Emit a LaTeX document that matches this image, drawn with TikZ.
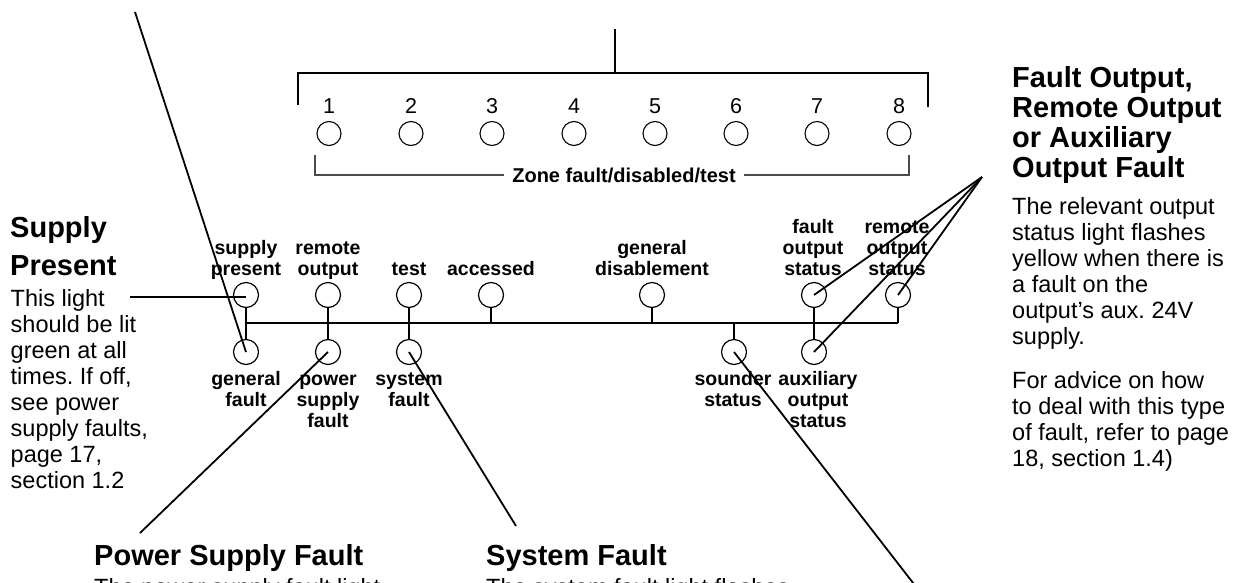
\documentclass[tikz,border=0pt]{standalone}
\usepackage{fontspec}
\setmainfont{Liberation Sans}
\frenchspacing
\begin{document}
\begin{tikzpicture}[x=1pt,y=-1pt,
  lamp/.style={circle,draw,line width=1.2pt,minimum size=25pt,inner sep=0pt},
  zlamp/.style={circle,draw,line width=1.1pt,minimum size=24pt,inner sep=0pt},
  lbl/.style={inner sep=0pt,anchor=base,font=\fontsize{19.5}{21}\selectfont\bfseries},
  znum/.style={inner sep=0pt,anchor=base,font=\fontsize{21.5}{21.5}\selectfont},
  ptr/.style={line width=1.8pt},
  busline/.style={line width=1.3pt},
  brk/.style={line width=1.8pt},
  zbrk/.style={line width=1.1pt,black!70},
  headA/.style={inner sep=0pt,anchor=base west,font=\fontsize{29}{38}\selectfont\bfseries},
  headB/.style={inner sep=0pt,anchor=base west,font=\fontsize{29}{30}\selectfont\bfseries},
  bodytxt/.style={inner sep=0pt,anchor=base west,font=\fontsize{23.5}{26}\selectfont},
]
\useasboundingbox (0,0) rectangle (1233,582);
\clip (0,0) rectangle (1233,582);

% ---------- zone lights ----------
\foreach \i/\xx in {1/329,2/411,3/492,4/574,5/655,6/736,7/817,8/899} {
  \node[zlamp] (z\i) at (\xx,133.5) {};
  \node[znum] (zn\i) at (\xx,113) {\i};
}
\coordinate (brL) at (298,105);
\coordinate (brR) at (928,107);
\coordinate (brMid) at (615,73);
\coordinate (brTop) at (615,29);
\draw[brk] (brL) |- (brMid) -| (brR);
\draw[brk] (brTop) -- (brMid);

\node[inner sep=0pt,font=\fontsize{20}{20}\selectfont\bfseries] (zonelbl) at (624,175) {Zone fault/disabled/test};
\coordinate (zbL) at (315,155);
\coordinate (zbR) at (909,155);
\draw[zbrk] (zbL) |- ([xshift=-8pt]zonelbl.west);
\draw[zbrk] (zbR) |- ([xshift=8pt]zonelbl.east);

% ---------- status lights ----------
\node[lamp] (sp)  at (246,295) {};
\node[lamp] (ro)  at (328,295) {};
\node[lamp] (tst) at (409,295) {};
\node[lamp] (acc) at (491,295) {};
\node[lamp] (gd)  at (652,295) {};
\node[lamp] (fos) at (814,295) {};
\node[lamp] (ros) at (898,295) {};
\node[lamp] (gf)  at (246,352) {};
\node[lamp] (psf) at (328,352) {};
\node[lamp] (sf)  at (409,352) {};
\node[lamp] (ss)  at (734,352) {};
\node[lamp] (aos) at (814,352) {};

\coordinate (busL) at (246,323);
\coordinate (busR) at (898,323);
\draw[busline] (busL) -- (busR);
\draw[busline] (sp.south) -- (gf.north);
\draw[busline] (ro.south) -- (psf.north);
\draw[busline] (tst.south) -- (sf.north);
\draw[busline] (fos.south) -- (aos.north);
\draw[busline] (acc.south) -- (acc.south |- busL);
\draw[busline] (gd.south) -- (gd.south |- busL);
\draw[busline] (ros.south) -- (ros.south |- busL);
\draw[busline] (ss.north) -- (ss.north |- busL);

% labels above
\node[lbl] (lsp)  at (246,275) {\begin{tabular}[b]{@{}c@{}}supply\\present\end{tabular}};
\node[lbl] (lro)  at (328,275) {\begin{tabular}[b]{@{}c@{}}remote\\output\end{tabular}};
\node[lbl] (ltst) at (409,275) {test};
\node[lbl] (lacc) at (491,275) {accessed};
\node[lbl] (lgd)  at (652,275) {\begin{tabular}[b]{@{}c@{}}general\\disablement\end{tabular}};
\node[lbl] (lfos) at (813,275) {\begin{tabular}[b]{@{}c@{}}fault\\output\\status\end{tabular}};
\node[lbl] (lros) at (897,275) {\begin{tabular}[b]{@{}c@{}}remote\\output\\status\end{tabular}};
% labels below
\node[lbl] (lgf)  at (246,385) {\begin{tabular}[t]{@{}c@{}}general\\fault\end{tabular}};
\node[lbl] (lpsf) at (328,385) {\begin{tabular}[t]{@{}c@{}}power\\supply\\fault\end{tabular}};
\node[lbl] (lsf)  at (409,385) {\begin{tabular}[t]{@{}c@{}}system\\fault\end{tabular}};
\node[lbl] (lss)  at (733,385) {\begin{tabular}[t]{@{}c@{}}sounder\\status\end{tabular}};
\node[lbl] (laos) at (818,385) {\begin{tabular}[t]{@{}c@{}}auxiliary\\output\\status\end{tabular}};

% ---------- explanatory texts ----------
\node[headA] (hsp) at (10,237) {\begin{tabular}[t]{@{}l@{}}Supply\\Present\end{tabular}};
\node[bodytxt] (bsp) at (10.5,306) {\begin{tabular}[t]{@{}l@{}}This light\\should be lit\\green at all\\times. If off,\\see power\\supply faults,\\page 17,\\section 1.2\end{tabular}};

\node[headB] (hfo) at (1012,87) {\begin{tabular}[t]{@{}l@{}}Fault Output,\\Remote Output\\or Auxiliary\\Output Fault\end{tabular}};
\node[bodytxt] (bfo1) at (1012,214) {\begin{tabular}[t]{@{}l@{}}The relevant output\\status light flashes\\yellow when there is\\a fault on the\\output’s aux. 24V\\supply.\end{tabular}};
\node[bodytxt] (bfo2) at (1012,388) {\begin{tabular}[t]{@{}l@{}}For advice on how\\to deal with this type\\of fault, refer to page\\18, section 1.4)\end{tabular}};

\node[headB] (hpsf) at (94,565) {Power Supply Fault};
\node[bodytxt] (bpsf) at (94,595) {The power supply fault light};
\node[headB] (hsf) at (486,565) {System Fault};
\node[bodytxt] (bsf) at (486,595) {The system fault light flashes};

% ---------- pointer lines ----------
\coordinate (p1) at (135,12);
\coordinate (p2) at (130,297);
\coordinate (p3) at (140,533);
\coordinate (p4) at (516,526);
\coordinate (p5) at (917,588);
\coordinate (p6) at (982,177);
\draw[ptr] (p1) -- (gf.center);
\draw[line width=1.2pt] (p2) -- (p2 -| sp.center);
\draw[ptr] (p3) -- (psf.center);
\draw[ptr] (p4) -- (sf.center);
\draw[ptr] (p5) -- (ss.center);
\draw[ptr] (p6) -- (fos.center);
\draw[ptr] (p6) -- (ros.center);
\draw[ptr] (p6) -- (aos.center);
\end{tikzpicture}
\end{document}
